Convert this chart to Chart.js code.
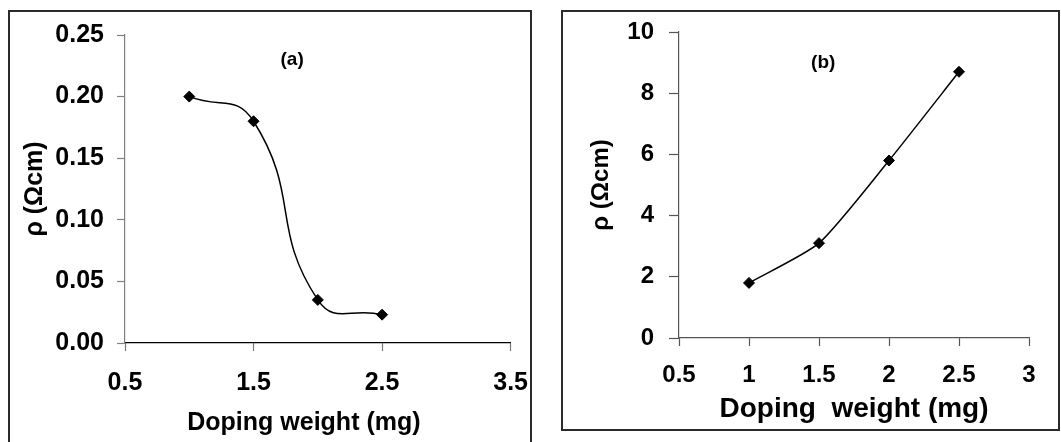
<!DOCTYPE html>
<html>
<head>
<meta charset="utf-8">
<script src="https://cdn.jsdelivr.net/npm/chart.js@4.4.1/dist/chart.umd.min.js"></script>
<style>
  body { margin: 0; background: #fff; width: 1061px; height: 442px; overflow: hidden; position: relative; }
  .frame { position: absolute; border: 2px solid #2b2b2b; box-sizing: border-box; }
  #frameA { left: 8px; top: 10px; width: 524px; height: 445px; }
  #frameB { left: 561px; top: 10px; width: 499px; height: 421px; }
  canvas { position: absolute; top: 0; }
  #chartA { left: 0; }
  #chartB { left: 540px; }
</style>
</head>
<body>
<div class="frame" id="frameA"></div>
<div class="frame" id="frameB"></div>
<canvas id="chartA" width="545" height="442"></canvas>
<canvas id="chartB" width="521" height="442"></canvas>
<script>
// doping weight (mg) vs resistivity rho (Ωcm)
var weightA = [1, 1.5, 2, 2.5]
var rhoA = [0.2, 0.18, 0.035, 0.023]
var weightB = [1, 1.5, 2, 2.5]
var rhoB = [1.8, 3.1, 5.8, 8.7]

// tick values and labels
var xTicksA = [0.5, 1.5, 2.5, 3.5]
var xLabelsA = ['0.5', '1.5', '2.5', '3.5']
var yTicksA = [0, 0.05, 0.1, 0.15, 0.2, 0.25]
var yLabelsA = ['0.00', '0.05', '0.10', '0.15', '0.20', '0.25']
var xTicksB = [0.5, 1, 1.5, 2, 2.5, 3]
var xLabelsB = ['0.5', '1', '1.5', '2', '2.5', '3']
var yTicksB = [0, 2, 4, 6, 8, 10]
var yLabelsB = ['0', '2', '4', '6', '8', '10']

var fontFamily = "'Liberation Sans', Arial, sans-serif"

function toPoints(xs, ys) {
  return xs.map(function (x, i) { return { x: x, y: ys[i] } })
}

// "(a)" / "(b)" panel tags, placed in data units
function panelTag(text, x, y) {
  return {
    id: 'panelTag',
    afterDraw: function (chart) {
      var ctx = chart.ctx
      ctx.save()
      ctx.font = 'bold 19px ' + fontFamily
      ctx.fillStyle = '#000'
      ctx.textAlign = 'center'
      ctx.textBaseline = 'middle'
      ctx.fillText(text, chart.scales.x.getPixelForValue(x), chart.scales.y.getPixelForValue(y))
      ctx.restore()
    }
  }
}

function axis(o) {
  return {
    type: 'linear',
    min: o.ticks[0],
    max: o.ticks[o.ticks.length - 1],
    afterBuildTicks: function (s) {
      s.ticks = o.ticks.map(function (v) { return { value: v } })
    },
    afterFit: function (s) {
      if (o.width) s.width = o.width
      if (o.height) s.height = o.height
    },
    border: { display: true, color: o.lineColor, width: 1.2 },
    grid: { display: true, drawOnChartArea: false, drawTicks: true, tickLength: o.tickLength, tickColor: o.tickColor, tickWidth: 1.2 },
    ticks: {
      padding: o.tickPadding,
      color: '#000',
      font: { family: fontFamily, size: o.tickSize, weight: 'bold' },
      maxRotation: 0,
      autoSkip: false,
      callback: function (v, i) { return o.labels[i] }
    },
    title: {
      display: true,
      text: o.title,
      color: '#000',
      font: { family: fontFamily, size: o.titleSize, weight: 'bold' },
      padding: o.titlePadding
    }
  }
}

function lineSet(points, tension) {
  return {
    data: points,
    showLine: true,
    borderColor: '#000',
    borderWidth: 1.5,
    tension: tension,
    pointStyle: 'rectRot',
    pointRadius: 5.5,
    pointBackgroundColor: '#000',
    pointBorderColor: '#000',
    pointBorderWidth: 1
  }
}

var common = {
  responsive: false,
  animation: false,
  devicePixelRatio: 1,
  plugins: { legend: { display: false }, tooltip: { enabled: false } }
}

new Chart('chartA', {
  type: 'scatter',
  data: { datasets: [lineSet(toPoints(weightA, rhoA), 0.5)] },
  options: Object.assign({}, common, {
    layout: { padding: { top: 35, right: 33, bottom: 0, left: 0 } },
    scales: {
      x: axis({ ticks: xTicksA, labels: xLabelsA, height: 99, lineColor: '#000', tickColor: '#777', tickLength: 8,
        tickPadding: 17, tickSize: 25, title: 'Doping weight (mg)\u00a0\u00a0\u00a0\u00a0', titleSize: 25, titlePadding: { top: 0, bottom: 4 } }),
      y: axis({ ticks: yTicksA, labels: yLabelsA, width: 125, lineColor: '#808080', tickColor: '#808080', tickLength: 8,
        tickPadding: 13, tickSize: 25, title: 'ρ (Ωcm)', titleSize: 25, titlePadding: { top: 20, bottom: 0 } })
    }
  }),
  plugins: [panelTag('(a)', 1.8, 0.23)]
})

new Chart('chartB', {
  type: 'scatter',
  data: { datasets: [lineSet(toPoints(weightB, rhoB), 0.2)] },
  options: Object.assign({}, common, {
    layout: { padding: { top: 32, right: 32, bottom: 0, left: 0 } },
    scales: {
      x: axis({ ticks: xTicksB, labels: xLabelsB, height: 104, lineColor: '#555', tickColor: '#555', tickLength: 8,
        tickPadding: 15, tickSize: 24, title: 'Doping  weight (mg)', titleSize: 28, titlePadding: { top: 0, bottom: 16 } }),
      y: axis({ ticks: yTicksB, labels: yLabelsB, width: 139, lineColor: '#555', tickColor: '#555', tickLength: 10,
        tickPadding: 15, tickSize: 24, title: 'ρ (Ωcm)', titleSize: 24, titlePadding: { top: 47, bottom: 0 } })
    }
  }),
  plugins: [panelTag('(b)', 1.53, 9.0)]
})
</script>
</body>
</html>
